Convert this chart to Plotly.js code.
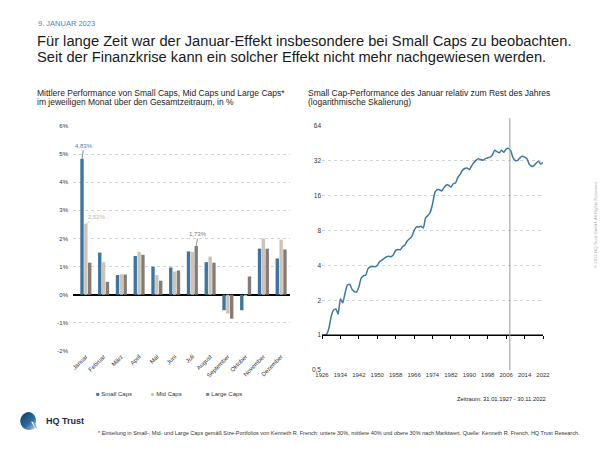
<!DOCTYPE html>
<html>
<head>
<meta charset="utf-8">
<script src="https://cdn.plot.ly/plotly-3.0.1.min.js"></script>
<style>
html,body{margin:0;padding:0;background:#fff;}
#chart{width:600px;height:450px;}
</style>
</head>
<body>
<div id="chart"></div>
<script>
// ---------- data ----------
const months = ['Januar','Februar','März','April','Mai','Juni','Juli','August','September','Oktober','November','Dezember'];
const smallCaps = [4.83,1.50,0.70,1.38,1.00,0.97,1.54,1.16,-0.55,-0.55,1.64,1.29];
const midCaps   = [2.52,1.16,0.73,1.53,0.70,0.83,1.52,1.36,-0.67,-0.04,2.00,1.96];
const largeCaps = [1.14,0.46,0.72,1.42,0.50,0.86,1.73,1.14,-0.85,0.65,1.64,1.61];
const seriesNames = ['Small Caps','Mid Caps','Large Caps'];
const pctTickVals = [-2,-1,0,1,2,3,4,5,6];
const pctTickText = ['-2%','-1%','0%','1%','2%','3%','4%','5%','6%'];

const years = [1926,1927,1928,1929,1930,1931,1932,1933,1934,1935,1936,1937,1938,1939,1940,1941,1942,1943,1944,1945,
  1946,1947,1948,1949,1950,1951,1952,1953,1954,1955,1956,1957,1958,1959,1960,1961,1962,1963,1964,1965,
  1966,1967,1968,1969,1970,1971,1972,1973,1974,1975,1976,1977,1978,1979,1980,1981,1982,1983,1984,1985,
  1986,1987,1988,1989,1990,1991,1992,1993,1994,1995,1996,1997,1998,1999,2000,2001,2002,2003,2004,2005,
  2006,2007,2008,2009,2010,2011,2012,2013,2014,2015,2016,2017,2018,2019,2020,2021,2022];
const janRelative = [1.00,1.00,1.02,1.15,1.45,1.65,1.68,1.52,2.05,1.90,2.30,2.70,2.75,2.50,2.38,2.36,2.60,3.10,3.25,3.30,
  3.75,3.90,3.92,3.90,4.00,4.30,4.45,4.60,4.75,4.80,4.75,4.95,5.40,5.50,5.45,5.80,6.00,6.50,6.80,7.10,
  8.00,8.60,8.60,8.70,8.40,10.3,10.8,11.5,13.5,17.0,18.0,18.0,17.6,18.8,19.8,19.7,19.0,20.3,20.6,23.0,
  24.5,26.5,27.5,27.8,26.9,29.0,31.0,32.5,33.3,32.8,32.4,33.5,34.0,34.5,36.0,39.5,38.5,37.5,39.5,38.0,
  40.5,41.0,39.0,34.0,32.2,32.3,34.0,35.0,34.5,33.5,30.0,28.7,29.0,30.5,31.8,30.0,31.0];
const yearTicks = [1926,1934,1942,1950,1958,1966,1974,1982,1990,1998,2006,2014,2022];
const logTickVals = [0.5,1,2,4,8,16,32,64];
const logTickText = ['0,5','1','2','4','8','16','32','64'];
const crisisYear = 2007.6;

// ---------- style ----------
const C_SMALL = '#3b76a2', C_MID = '#d0c3b4', C_LARGE = '#857c78', C_LINE = '#3a78a5';
const seriesColors = [C_SMALL, C_MID, C_LARGE];
const FONT = 'Liberation Sans, Arial, Helvetica, sans-serif';
const W = 600, H = 450;
const px = p => p / W;
const py = p => 1 - p / H;

const leftDomX = [px(73), px(290)], leftDomY = [py(351), py(126)];
const rightDomX = [px(322), px(543)], rightDomY = [py(370), py(126)];
const logRange = [Math.log10(0.5), Math.log10(64)];
const oneLinePaper = rightDomY[0] + (0 - logRange[0]) / (logRange[1] - logRange[0]) * (rightDomY[1] - rightDomY[0]);

const bargap = 0.35;
const slot = (1 - bargap) / 3;
const barSeries = [smallCaps, midCaps, largeCaps];

const traces = barSeries.map((vals, i) => ({
  type:'bar', x:months, y:vals, name:seriesNames[i], marker:{color:seriesColors[i]},
  xaxis:'x', yaxis:'y', showlegend:false, hoverinfo:'skip'
}));
traces.push({type:'scatter', mode:'lines', x:years, y:janRelative, line:{color:C_LINE, width:1.5, shape:'spline', smoothing:0.5}, xaxis:'x2', yaxis:'y2', showlegend:false, hoverinfo:'skip'});
traces.push({type:'scatter', mode:'lines', x:[], y:[], xaxis:'x3', yaxis:'y2', showlegend:false, hoverinfo:'skip'});

const fmt = v => v.toFixed(2).replace('.', ',') + '%';
const janIdx = 0, julIdx = months.indexOf('Juli');

const txt = (text, x, y, size, color, anchor) => ({text, x:px(x), y:py(y), xref:'paper', yref:'paper', xanchor:anchor || 'left', yanchor:'middle', showarrow:false, font:{family:FONT, size, color}});

const annotations = [
  txt('9. JANUAR 2023', 36, 23, 7.5, '#4a86b5'),
  txt('Für lange Zeit war der Januar-Effekt insbesondere bei Small Caps zu beobachten.', 35, 41, 14.7, '#1a1a1a'),
  txt('Seit der Finanzkrise kann ein solcher Effekt nicht mehr nachgewiesen werden.', 35, 57, 14.7, '#1a1a1a'),
  txt('Mittlere Performance von Small Caps, Mid Caps und Large Caps*', 35, 93, 8.5, '#222'),
  txt('im jeweiligen Monat über den Gesamtzeitraum, in %', 35, 102, 8.5, '#222'),
  txt('Small Cap-Performance des Januar relativ zum Rest des Jahres', 306, 93, 8.5, '#222'),
  txt('(logarithmische Skalierung)', 306, 102, 8.5, '#222'),
  txt('Zeitraum: 31.01.1927 - 30.11.2022', 548, 399, 5.8, '#222', 'right'),
  txt('* Einteilung in Small-, Mid- und Large Caps gemäß Size-Portfolios von Kenneth R. French: untere 30%, mittlere 40% und obere 30% nach Marktwert. Quelle: Kenneth R. French, HQ Trust Research.', 582, 433, 5.5, '#333', 'right'),
  txt('<b>HQ Trust</b>', 44, 421, 9, '#1c2b45'),
  Object.assign(txt('© 2022 HQ Trust GmbH. All Rights Reserved.', 595, 225, 4.3, '#aaa', 'center'), {textangle:-90}),
  // value labels from data
  {text:fmt(smallCaps[janIdx]), x:janIdx - slot, y:smallCaps[janIdx], xref:'x', yref:'y', showarrow:true, arrowhead:0, arrowwidth:0.8, arrowcolor:C_SMALL, ax:2, ay:-13, standoff:0, font:{family:FONT, size:6, color:'#4a80aa'}},
  {text:fmt(midCaps[janIdx]), x:janIdx, y:midCaps[janIdx], xref:'x', yref:'y', showarrow:true, arrowhead:0, arrowwidth:0.8, arrowcolor:'#c9b8a6', ax:11, ay:-7, standoff:0, font:{family:FONT, size:6, color:'#c3b19e'}},
  {text:fmt(largeCaps[julIdx]), x:julIdx + slot, y:largeCaps[julIdx], xref:'x', yref:'y', showarrow:true, arrowhead:0, arrowwidth:0.8, arrowcolor:'#777', ax:2, ay:-12, standoff:0, font:{family:FONT, size:6, color:'#777'}}
];

// legend (marker + name), built from series names and colours
const legendX = [94, 149, 204];
seriesNames.forEach((n, i) => {
  annotations.push(txt('<span style="color:' + seriesColors[i] + '">■</span> ' + n, legendX[i], 394, 6, '#333'));
});

const logoSvg = '<svg xmlns="http://www.w3.org/2000/svg" width="40" height="40" viewBox="0 0 40 40">' +
  '<defs><linearGradient id="g" x1="0" y1="0" x2="1" y2="1"><stop offset="0" stop-color="#0e3a66"/><stop offset="0.55" stop-color="#2a6a9c"/><stop offset="1" stop-color="#dbe8f2"/></linearGradient></defs>' +
  '<path d="M20 2 A18 18 0 1 0 33 33 L38 38 L33 26 A18 18 0 0 0 20 2 Z" fill="url(#g)"/>' +
  '<path d="M24 21 L33 36 L28 22 Z" fill="#fff"/></svg>';

const layout = {
  width:W, height:H,
  margin:{l:0, r:0, t:0, b:0},
  paper_bgcolor:'#fff', plot_bgcolor:'rgba(0,0,0,0)',
  font:{family:FONT, color:'#333'},
  barmode:'group', bargap:bargap, bargroupgap:0.12,
  showlegend:false,
  xaxis:{domain:leftDomX, anchor:'y', type:'category', showgrid:false, zeroline:false, showline:false, ticks:'', tickangle:-45, tickfont:{family:FONT, size:6, color:'#333'}, fixedrange:true},
  yaxis:{domain:leftDomY, anchor:'x', range:[-2, 6], tickvals:pctTickVals, ticktext:pctTickText, showgrid:true, gridcolor:'#c8c8c8', griddash:'dot', gridwidth:0.8, zeroline:true, zerolinecolor:'#000', zerolinewidth:1.5, showline:false, ticks:'', ticklabelstandoff:4, tickfont:{family:FONT, size:6, color:'#333'}, fixedrange:true},
  xaxis2:{domain:rightDomX, anchor:'y2', range:[1926, 2022], tickvals:yearTicks, showgrid:false, zeroline:false, showline:false, ticks:'', tickfont:{family:FONT, size:6, color:'#333'}, fixedrange:true},
  xaxis3:{overlaying:'x2', anchor:'free', position:oneLinePaper, range:[1926, 2022], tickvals:yearTicks, showticklabels:false, showgrid:false, zeroline:false, showline:false, ticks:'outside', ticklen:3, tickwidth:1, tickcolor:'#000', fixedrange:true},
  yaxis2:{domain:rightDomY, anchor:'x2', type:'log', range:logRange, tickvals:logTickVals, ticktext:logTickText, showgrid:true, gridcolor:'#c8c8c8', griddash:'dot', gridwidth:0.8, zeroline:false, showline:false, ticks:'', tickfont:{family:FONT, size:6.5, color:'#333'}, fixedrange:true},
  shapes:[
    {type:'line', xref:'x2 domain', yref:'y2', x0:0, x1:1, y0:1, y1:1, line:{color:'#000', width:1.5}},
    {type:'line', xref:'x2', yref:'paper', x0:crisisYear, x1:crisisYear, y0:rightDomY[0], y1:py(118), line:{color:'#9a9a9a', width:1}}
  ],
  annotations:annotations,
  images:[{source:'data:image/svg+xml;base64,' + btoa(logoSvg), xref:'paper', yref:'paper', x:px(19), y:py(411), sizex:px(20), sizey:20/H, xanchor:'left', yanchor:'top', layer:'above'}]
};

Plotly.newPlot('chart', traces, layout, {staticPlot:true, displayModeBar:false});
</script>
</body>
</html>
